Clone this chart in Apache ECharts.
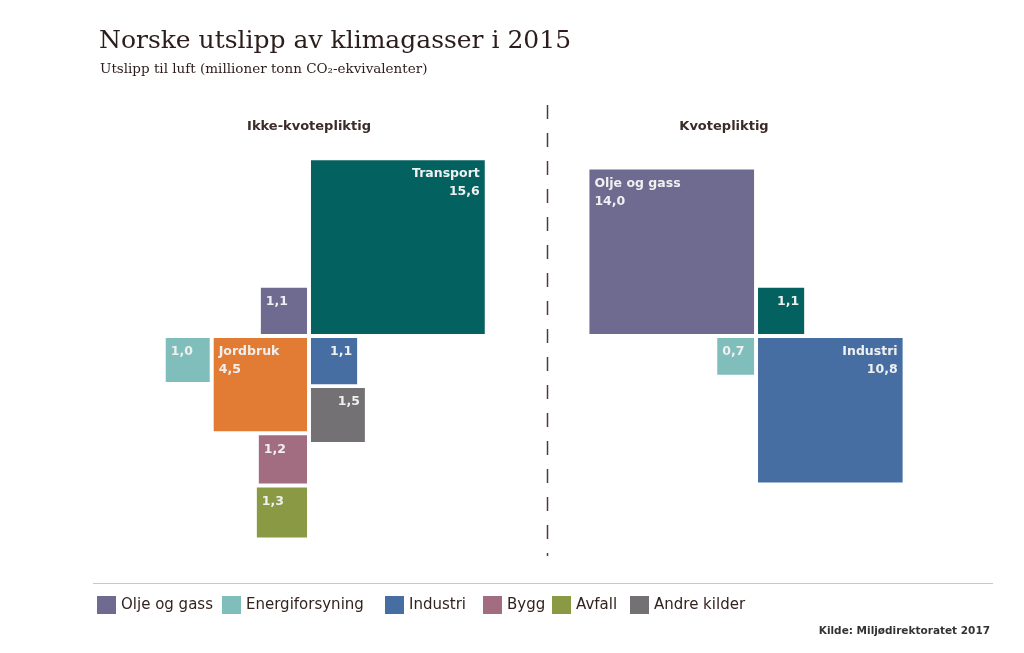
<!DOCTYPE html>
<html><head><meta charset="utf-8">
<script src="https://cdn.jsdelivr.net/npm/echarts@6/dist/echarts.min.js"></script>
<style>html,body{margin:0;padding:0;background:#fff}#c{width:1024px;height:653px}</style>
</head><body><div id="c"></div>
<script>
const categories = ['Olje og gass','Energiforsyning','Industri','Bygg','Avfall','Andre kilder','Transport','Jordbruk'];
const legendCategories = ['Olje og gass','Energiforsyning','Industri','Bygg','Avfall','Andre kilder'];
const ikkeKvotepliktig = [1.1, 1.0, 1.1, 1.2, 1.3, 1.5, 15.6, 4.5];
const kvotepliktig = [14.0, 0.7, 10.8, null, null, null, 1.1, null];
const colors = ['#6f6a8f','#7fbebb','#476ea3','#a26d81','#8a9a44','#737173','#03625f','#e27c35'];
const panelTitles = ['Ikke-kvotepliktig','Kvotepliktig'];

// arrangement of the squares around each panel's centre
const layouts = [
  {origin: 0, values: ikkeKvotepliktig, items: [
    {cat:'Transport', q:'TR'},
    {cat:'Olje og gass', q:'TL'},
    {cat:'Jordbruk', q:'BL'},
    {cat:'Energiforsyning', q:'BL', after:'Jordbruk', dir:'h'},
    {cat:'Bygg', q:'BL', after:'Jordbruk', dir:'v'},
    {cat:'Avfall', q:'BL', after:'Bygg', dir:'v'},
    {cat:'Industri', q:'BR'},
    {cat:'Andre kilder', q:'BR', after:'Industri', dir:'v'}
  ]},
  {origin: 10.16, values: kvotepliktig, items: [
    {cat:'Olje og gass', q:'TL'},
    {cat:'Transport', q:'TR'},
    {cat:'Energiforsyning', q:'BL'},
    {cat:'Industri', q:'BR'}
  ]}
];

const GAP = 0.09, HALF = 0.045;
const seriesData = {};
categories.forEach(c => seriesData[c] = []);
layouts.forEach(L => {
  const placed = {};
  L.items.forEach(it => {
    const v = L.values[categories.indexOf(it.cat)];
    if (v == null) return;
    const s = Math.sqrt(v);
    const sx = it.q[1] === 'R' ? 1 : -1;
    const sy = it.q[0] === 'T' ? 1 : -1;
    let ox = HALF, oy = HALF;
    if (it.after) {
      const P = placed[it.after];
      if (it.dir === 'h') { ox = P.ox + P.s + GAP; oy = P.oy; }
      else { oy = P.oy + P.s + GAP; ox = P.ox; }
    }
    placed[it.cat] = {ox, oy, s};
    const xa = L.origin + sx * ox, xb = L.origin + sx * (ox + s);
    const ya = sy * oy, yb = sy * (oy + s);
    seriesData[it.cat].push([Math.min(xa, xb), Math.min(ya, yb), Math.max(xa, xb), Math.max(ya, yb), v, sx]);
  });
});

function renderItem(params, api) {
  const p0 = api.coord([api.value(0), api.value(3)]);
  const p1 = api.coord([api.value(2), api.value(1)]);
  const x = p0[0], y = p0[1], w = p1[0] - p0[0], h = p1[1] - p0[1];
  const v = api.value(4), sx = api.value(5);
  const txt = (v >= 4 ? params.seriesName + '\n' : '') + v.toFixed(1).replace('.', ',');
  return {type: 'group', children: [
    {type: 'rect', shape: {x, y, width: w, height: h}, style: {fill: api.visual('color')}},
    {type: 'text', x: sx > 0 ? x + w - 5 : x + 5, y: y + 5,
      style: {text: txt, fill: '#f0f0f0', font: 'bold 12.5px "DejaVu Sans"',
        align: sx > 0 ? 'right' : 'left', verticalAlign: 'top', lineHeight: 18}}
  ]};
}

const legendX = [97, 222, 385, 483, 552, 630];
const legends = legendCategories.map((c, i) => ({
  data: [c], left: legendX[i], top: 596, padding: 0, itemWidth: 19, itemHeight: 18, icon: 'rect',
  textStyle: {fontFamily: 'DejaVu Sans', fontSize: 15, color: '#33231f'}
}));

const chart = echarts.init(document.getElementById('c'), null, {renderer: 'canvas'});
chart.setOption({
  animation: false,
  backgroundColor: '#fff',
  title: [
    {text: 'Norske utslipp av klimagasser i 2015', left: 99, top: 29, padding: 0,
      textStyle: {fontFamily: 'DejaVu Serif', fontSize: 25, fontWeight: 'normal', color: '#2b1d1b'}},
    {text: 'Utslipp til luft (millioner tonn CO₂-ekvivalenter)', left: 100, top: 62, padding: 0,
      textStyle: {fontFamily: 'DejaVu Serif', fontSize: 13.5, fontWeight: 'normal', color: '#2b1d1b'}}
  ],
  grid: {left: 89, top: 116, width: 880, height: 440, containLabel: false},
  xAxis: {type: 'value', min: -5, max: 15, show: false},
  yAxis: {type: 'value', min: -5, max: 5, show: false},
  legend: legends,
  graphic: [
    {type: 'text', x: 309, y: 127, style: {text: panelTitles[0], font: 'bold 13px "DejaVu Sans"', fill: '#3b2c2a', align: 'center', verticalAlign: 'middle'}},
    {type: 'text', x: 724, y: 127, style: {text: panelTitles[1], font: 'bold 13px "DejaVu Sans"', fill: '#3b2c2a', align: 'center', verticalAlign: 'middle'}},
    {type: 'line', shape: {x1: 547.5, y1: 105, x2: 547.5, y2: 556}, style: {stroke: '#4a3c3a', lineWidth: 1.5, lineDash: [14, 14]}},
    {type: 'line', shape: {x1: 93, y1: 583.5, x2: 993, y2: 583.5}, style: {stroke: '#c8c8c8', lineWidth: 1}},
    {type: 'text', x: 990, y: 631, style: {text: 'Kilde: Miljødirektoratet 2017', font: 'bold 10.5px "DejaVu Sans"', fill: '#333', align: 'right', verticalAlign: 'middle'}}
  ],
  series: categories.map((c, i) => ({
    type: 'custom', name: c, renderItem, data: seriesData[c],
    encode: {x: [0, 2], y: [1, 3]},
    itemStyle: {color: colors[i]}
  }))
});
</script></body></html>
